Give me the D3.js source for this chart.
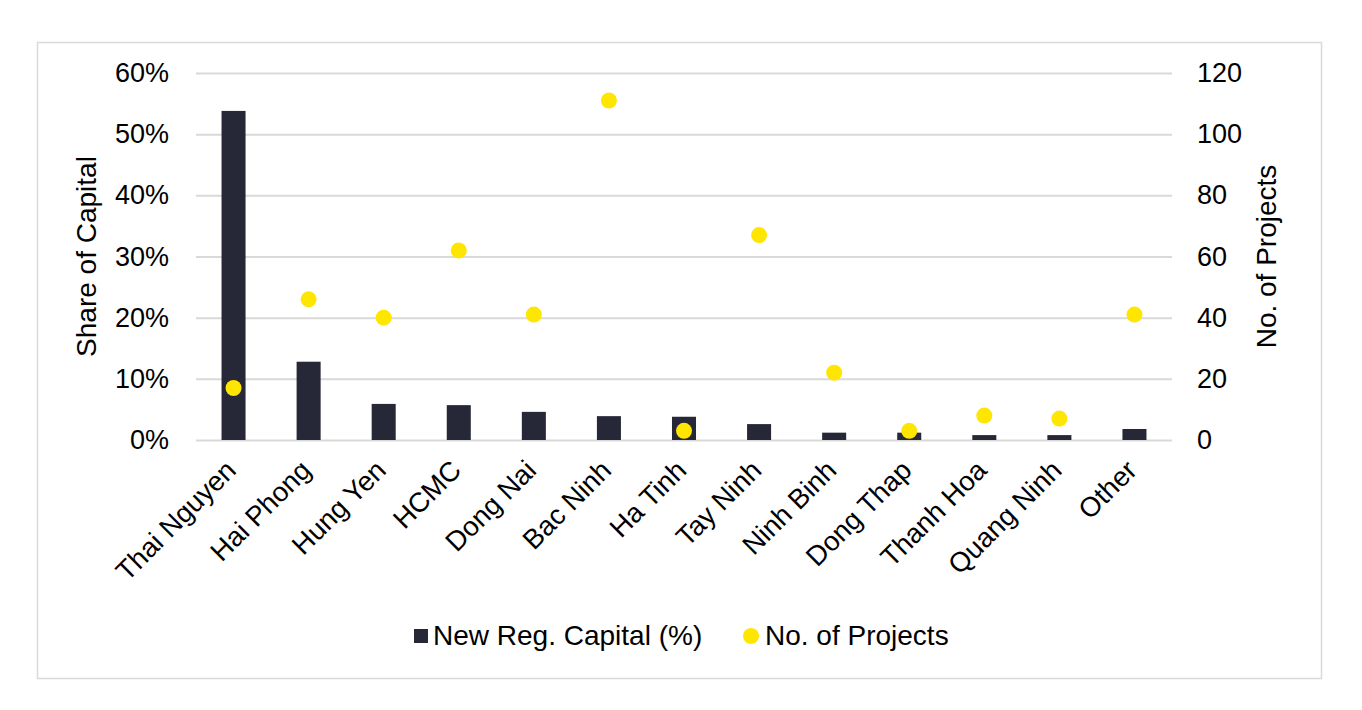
<!DOCTYPE html>
<html>
<head>
<meta charset="utf-8">
<script src="https://cdn.jsdelivr.net/npm/d3@7"></script>
<style>
  body { margin: 0; background: #fff; }
  text { font-family: "Liberation Sans", Arial, sans-serif; fill: #000; }
</style>
</head>
<body>
<div id="chart"></div>
<script>
const provinces = ["Thai Nguyen", "Hai Phong", "Hung Yen", "HCMC", "Dong Nai", "Bac Ninh", "Ha Tinh",
    "Tay Ninh", "Ninh Binh", "Dong Thap", "Thanh Hoa", "Quang Ninh", "Other"];
const capitalShare = [0.538, 0.128, 0.059, 0.057, 0.046, 0.039, 0.038, 0.026, 0.012, 0.012, 0.008, 0.008, 0.018];
const projects = [17, 46, 40, 62, 41, 111, 3, 67, 22, 3, 8, 7, 41];
const leftTicks = [0, 0.1, 0.2, 0.3, 0.4, 0.5, 0.6];
const rightTicks = [0, 20, 40, 60, 80, 100, 120];

const barColor = "#262838";
const dotColor = "#FFE600";
const gridColor = "#d9d9d9";

const width = 1362, height = 710;
const plotLeft = 196, plotRight = 1172, plotTop = 73, plotBottom = 440;
const fontSize = "27px";

const svg = d3.select("#chart").append("svg")
    .attr("width", width)
    .attr("height", height);

// cadre
svg.append("rect")
    .attr("x", 37.5).attr("y", 42.5)
    .attr("width", 1284).attr("height", 636)
    .attr("fill", "none")
    .attr("stroke", gridColor)
    .attr("stroke-width", 1.5);

const x = d3.scaleBand()
    .domain(provinces)
    .range([plotLeft, plotRight])
    .paddingInner(0.68)
    .paddingOuter(0.34);

const yL = d3.scaleLinear().domain([0, 0.6]).range([plotBottom, plotTop]);
const yR = d3.scaleLinear().domain([0, 120]).range([plotBottom, plotTop]);

// grille + axe gauche
const gLeft = svg.append("g")
    .attr("transform", `translate(${plotLeft},0)`)
    .call(d3.axisLeft(yL).tickValues(leftTicks).tickFormat(d3.format(".0%"))
        .tickSize(-(plotRight - plotLeft)).tickPadding(27));
gLeft.select(".domain").remove();
gLeft.selectAll(".tick line").attr("stroke", gridColor).attr("stroke-width", 2);
gLeft.selectAll(".tick text").style("font-size", fontSize);

// axe droit
const gRight = svg.append("g")
    .attr("transform", `translate(${plotRight},0)`)
    .call(d3.axisRight(yR).tickValues(rightTicks).tickSize(0).tickPadding(25));
gRight.select(".domain").remove();
gRight.selectAll(".tick text").style("font-size", fontSize);

// barres
svg.append("g")
    .selectAll("rect")
    .data(provinces)
    .enter().append("rect")
    .attr("x", d => x(d))
    .attr("width", x.bandwidth())
    .attr("y", (d, i) => yL(capitalShare[i]))
    .attr("height", (d, i) => yL(0) - yL(capitalShare[i]))
    .attr("fill", barColor);

// points
svg.append("g")
    .selectAll("circle")
    .data(provinces)
    .enter().append("circle")
    .attr("cx", d => x(d) + x.bandwidth() / 2)
    .attr("cy", (d, i) => yR(projects[i]))
    .attr("r", 8)
    .attr("fill", dotColor);

// étiquettes des catégories
svg.append("g")
    .selectAll("text")
    .data(provinces)
    .enter().append("text")
    .attr("text-anchor", "end")
    .attr("transform", d => `translate(${x(d) + x.bandwidth() / 2 + 4},472) rotate(-45)`)
    .style("font-size", "27.5px")
    .text(d => d);

// titres des axes
svg.append("text")
    .attr("transform", `translate(89,${(plotTop + plotBottom) / 2}) rotate(-90)`)
    .attr("text-anchor", "middle")
    .attr("dominant-baseline", "middle")
    .style("font-size", "28px")
    .text("Share of Capital");

svg.append("text")
    .attr("transform", `translate(1269,${(plotTop + plotBottom) / 2}) rotate(-90)`)
    .attr("text-anchor", "middle")
    .attr("dominant-baseline", "middle")
    .style("font-size", "28px")
    .text("No. of Projects");

// légende
const legend = svg.append("g");
legend.append("rect")
    .attr("x", 414).attr("y", 629)
    .attr("width", 14).attr("height", 14)
    .attr("fill", barColor);
legend.append("text")
    .attr("x", 433).attr("y", 645)
    .style("font-size", "28px")
    .text("New Reg. Capital (%)");
legend.append("circle")
    .attr("cx", 751).attr("cy", 636)
    .attr("r", 8)
    .attr("fill", dotColor);
legend.append("text")
    .attr("x", 765).attr("y", 645)
    .style("font-size", "28px")
    .text("No. of Projects");
</script>
</body>
</html>
